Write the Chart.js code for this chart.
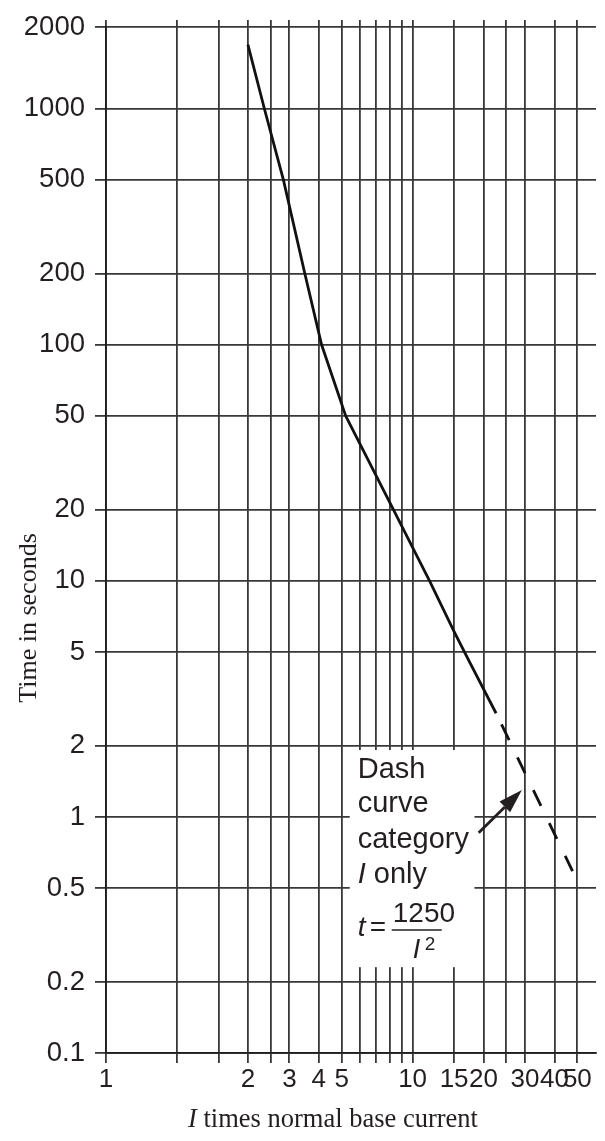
<!DOCTYPE html>
<html>
<head>
<meta charset="utf-8">
<title>Time-current characteristic</title>
<script src="https://cdn.jsdelivr.net/npm/chart.js@4.4.1/dist/chart.umd.min.js"></script>
<style>
  html, body { margin: 0; padding: 0; background: #fff; }
  #wrap { width: 605px; height: 1141px; }
</style>
</head>
<body>
<div id="wrap"><canvas id="tccChart" width="605" height="1141"></canvas></div>
<script>
// curve: I = multiple of normal base current, t = time in seconds
const currentMultiple = [2.0, 2.35, 2.83, 3.49, 4.11, 5.2, 8.3, 11.8, 15, 17.5, 22.6];
const timeSeconds = [1870, 1000, 500, 200, 100, 50, 20, 10, 6.1, 4.5, 2.75];

// dashed part (category I only, t = 1250 / I^2)
const dashCurrent = [22.6, 47.7];
const dashTime = [2.75, 0.59];

// grid lines as printed on the sheet (edge lines carry the printed labels)
const xTickValues = [0.5, 1, 1.5, 2, 2.5, 3, 4, 5, 6, 7, 8, 9, 10, 15, 20, 25, 30, 40, 50];
const xTickLabels = ['1', '', '', '2', '', '3', '4', '5', '', '', '', '', '10', '15', '20', '', '30', '40', '50'];
const yTickValues = [0.1, 0.2, 0.5, 1, 2, 5, 10, 20, 50, 100, 200, 500, 1000, 2220];
const yTickLabels = ['0.1', '0.2', '0.5', '1', '2', '5', '10', '20', '50', '100', '200', '500', '1000', '2000'];

const inkColor = '#231f20';
const gridColor = '#383838';
const sansFont = '"Liberation Sans", Arial, Helvetica, sans-serif';
const serifFont = '"Liberation Serif", "Times New Roman", Times, serif';

// note box and arrow, placed in data units
const note = {
    boxFrom: { x: 5.41, y: 1.92 },
    boxTo: { x: 18.3, y: 0.231 },
    arrowFrom: { x: 19.07, y: 0.858 },
    arrowTo: { x: 29.1, y: 1.30 }
};

function toPoints(xs, ys) {
    return xs.map((v, i) => ({ x: v, y: ys[i] }));
}

// draws the axis titles and the "Dash curve" note
const sheetText = {
    id: 'sheetText',
    afterDatasetsDraw(chart) {
        const ctx = chart.ctx;
        const area = chart.chartArea;
        const xs = chart.scales.x;
        const ys = chart.scales.y;
        ctx.save();
        ctx.strokeStyle = inkColor;

        // white box over the grid
        const bl = xs.getPixelForValue(note.boxFrom.x);
        const br = xs.getPixelForValue(note.boxTo.x);
        const bt = ys.getPixelForValue(note.boxFrom.y);
        const bb = ys.getPixelForValue(note.boxTo.y);
        ctx.fillStyle = '#fff';
        ctx.fillRect(bl, bt, br - bl, bb - bt);

        ctx.fillStyle = inkColor;
        ctx.textBaseline = 'alphabetic';
        ctx.textAlign = 'left';
        const tx = bl + 8;
        ctx.font = '29px ' + sansFont;
        ctx.fillText('Dash', tx, bt + 28);
        ctx.fillText('curve', tx, bt + 62);
        ctx.fillText('category', tx, bt + 98);
        ctx.font = 'italic 29px ' + sansFont;
        ctx.fillText('I', tx, bt + 133);
        let w = ctx.measureText('I').width;
        ctx.font = '29px ' + sansFont;
        ctx.fillText(' only', tx + w, bt + 133);

        // t = 1250 / I^2
        ctx.font = 'italic 28px ' + sansFont;
        ctx.fillText('t', tx, bt + 186);
        ctx.font = '28px ' + sansFont;
        ctx.fillText('=', tx + 12, bt + 186);
        ctx.fillText('1250', tx + 35, bt + 172);
        ctx.lineWidth = 1.6;
        ctx.beginPath();
        ctx.moveTo(tx + 34, bt + 180);
        ctx.lineTo(tx + 84, bt + 180);
        ctx.stroke();
        ctx.font = 'italic 27px ' + sansFont;
        ctx.fillText('I', tx + 55, bt + 208);
        ctx.font = '19px ' + sansFont;
        ctx.fillText('2', tx + 67, bt + 200);

        // arrow
        const ax0 = xs.getPixelForValue(note.arrowFrom.x);
        const ay0 = ys.getPixelForValue(note.arrowFrom.y);
        const ax1 = xs.getPixelForValue(note.arrowTo.x);
        const ay1 = ys.getPixelForValue(note.arrowTo.y);
        const ang = Math.atan2(ay1 - ay0, ax1 - ax0);
        const headLen = 24, headHalf = 7.5;
        const hx = ax1 - headLen * Math.cos(ang);
        const hy = ay1 - headLen * Math.sin(ang);
        ctx.lineWidth = 2.8;
        ctx.beginPath();
        ctx.moveTo(ax0, ay0);
        ctx.lineTo(hx, hy);
        ctx.stroke();
        ctx.beginPath();
        ctx.moveTo(ax1, ay1);
        ctx.lineTo(hx + headHalf * Math.sin(ang), hy - headHalf * Math.cos(ang));
        ctx.lineTo(hx - headHalf * Math.sin(ang), hy + headHalf * Math.cos(ang));
        ctx.closePath();
        ctx.fill();

        // y axis title
        ctx.save();
        ctx.translate(area.left - 70, area.bottom - 435);
        ctx.rotate(-Math.PI / 2);
        ctx.textAlign = 'center';
        ctx.font = '26px ' + serifFont;
        ctx.fillText('Time in seconds', 0, 0);
        ctx.restore();

        // x axis title
        const titleY = area.bottom + 74;
        let px = area.left + 82;
        ctx.font = 'italic 26.5px ' + serifFont;
        ctx.fillText('I', px, titleY);
        px += ctx.measureText('I').width;
        ctx.font = '26.5px ' + serifFont;
        ctx.fillText(' times normal base current', px, titleY);

        ctx.restore();
    }
};

new Chart(document.getElementById('tccChart'), {
    type: 'line',
    data: {
        datasets: [{
            data: toPoints(currentMultiple, timeSeconds),
            borderColor: '#111',
            borderWidth: 2.8,
            pointRadius: 0,
            tension: 0,
            borderJoinStyle: 'round'
        }, {
            data: toPoints(dashCurrent, dashTime),
            borderColor: '#111',
            borderWidth: 2.8,
            pointRadius: 0,
            borderDash: [17.5, 19],
            borderDashOffset: 24
        }]
    },
    options: {
        responsive: false,
        animation: false,
        devicePixelRatio: 1,
        events: [],
        layout: { padding: { left: 0, right: 9, top: 0, bottom: 0 } },
        plugins: {
            legend: { display: false },
            tooltip: { enabled: false }
        },
        scales: {
            x: {
                type: 'logarithmic',
                position: 'bottom',
                min: 0.5,
                max: 60,
                afterBuildTicks: function (scale) {
                    scale.ticks = xTickValues.map(v => ({ value: v }));
                },
                afterFit: function (scale) { scale.height = 88; },
                ticks: {
                    autoSkip: false,
                    maxRotation: 0,
                    minRotation: 0,
                    padding: 1,
                    color: inkColor,
                    font: { family: sansFont, size: 26 },
                    callback: (value, index) => xTickLabels[index]
                },
                grid: { color: gridColor, lineWidth: 1.8, tickLength: 10 },
                border: { display: true, color: '#1e1e1e', width: 1.8 }
            },
            xTop: {
                type: 'logarithmic',
                position: 'top',
                min: 0.5,
                max: 60,
                afterBuildTicks: function (scale) {
                    scale.ticks = xTickValues.map(v => ({ value: v }));
                },
                afterFit: function (scale) { scale.height = 27; },
                ticks: { display: false, autoSkip: false },
                grid: { color: gridColor, lineWidth: 1.8, tickLength: 7, drawOnChartArea: false },
                border: { display: false }
            },
            y: {
                type: 'logarithmic',
                position: 'left',
                min: 0.1,
                max: 2220,
                afterBuildTicks: function (scale) {
                    scale.ticks = yTickValues.map(v => ({ value: v }));
                },
                afterFit: function (scale) { scale.width = 106; },
                ticks: {
                    autoSkip: false,
                    padding: 10,
                    color: inkColor,
                    font: { family: sansFont, size: 27.5 },
                    callback: (value, index) => yTickLabels[index]
                },
                grid: { color: gridColor, lineWidth: 1.8, tickLength: 11 },
                border: { display: true, color: '#1e1e1e', width: 1.8 }
            }
        }
    },
    plugins: [sheetText]
});
</script>
</body>
</html>
